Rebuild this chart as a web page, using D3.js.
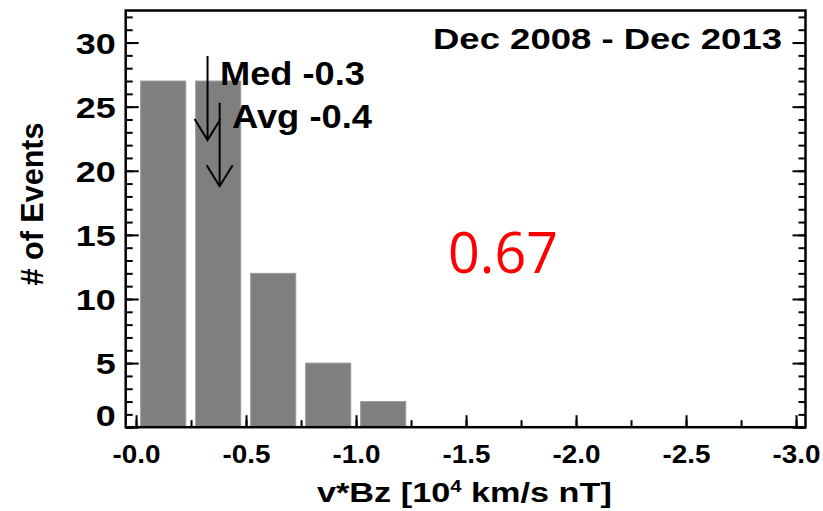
<!DOCTYPE html>
<html>
<head>
<meta charset="utf-8">
<script src="https://cdn.jsdelivr.net/npm/d3@7"></script>
<style>
  body { margin: 0; background: #fff; }
  text { font-family: "Liberation Sans", Arial, Helvetica, sans-serif; font-weight: bold; }
</style>
</head>
<body>
<script>
// histogram bins (left edge of each 0.25 wide bin) and counts
var binStart = [0, -0.25, -0.5, -0.75, -1.0];
var counts = [27, 27, 12, 5, 2];
var xTicks = [0, -0.5, -1.0, -1.5, -2.0, -2.5, -3.0];
var xTickLabels = ["-0.0", "-0.5", "-1.0", "-1.5", "-2.0", "-2.5", "-3.0"];
var yTicks = [0, 5, 10, 15, 20, 25, 30];

// median / average markers: value, arrow top and tip (in counts)
var markerVal = [-0.325, -0.38];
var markerTop = [28.95, 25.3];
var markerTip = [22.4, 18.8];
var markerText = ["Med -0.3", "Avg -0.4"];

var W = 823, H = 511;
// plot frame (note: "top" is a reserved window property, so use other names)
var plotL = 125.7, plotR = 805.5, plotT = 10.5, plotB = 427.2;

var svg = d3.select("body").append("svg")
    .attr("width", W)
    .attr("height", H);

var x = d3.scaleLinear().domain([0.047, -3.043]).range([plotL, plotR]);
var y = d3.scaleLinear().domain([0, 32.5]).range([plotB, plotT]);

// bars
var binW = 0.25, gapL = 0.021, gapR = 0.024;
svg.selectAll("rect.bar")
  .data(counts)
  .enter().append("rect")
    .attr("class", "bar")
    .attr("x", function(d, i) { return x(binStart[i] - gapL); })
    .attr("width", function(d, i) { return x(binStart[i] - binW + gapR) - x(binStart[i] - gapL); })
    .attr("y", function(d) { return y(d); })
    .attr("height", function(d) { return y(0) - y(d); })
    .style("fill", "#7f7f7f")
    .style("stroke", "#9c9c9c")
    .style("stroke-width", 1);

// axes, ticks pointing inward
function styleTicks(g) {
  g.select(".domain").remove();
  g.selectAll("line").style("stroke", "#000").style("stroke-width", 2);
}

svg.append("g")
    .attr("transform", "translate(" + plotL + ",0)")
    .call(d3.axisLeft(y).tickValues(d3.range(0, 33, 1)).tickSize(-7).tickFormat(""))
    .call(styleTicks);
var yAxis = svg.append("g")
    .attr("transform", "translate(" + plotL + ",0)")
    .call(d3.axisLeft(y).tickValues(yTicks).tickSize(-13).tickPadding(10))
    .call(styleTicks);
yAxis.selectAll("text")
    .style("font-size", "30px")
    .style("fill", "#000")
    .attr("dy", function(d) { return d === 0 ? "-0.05em" : "0.36em"; }) // IDL lifts the 0 label off the axis
    .attr("textLength", function(d) { return String(d).length * 20; })
    .attr("lengthAdjust", "spacingAndGlyphs");

svg.append("g")
    .attr("transform", "translate(" + plotR + ",0)")
    .call(d3.axisRight(y).tickValues(d3.range(0, 33, 1)).tickSize(-7).tickFormat(""))
    .call(styleTicks);
svg.append("g")
    .attr("transform", "translate(" + plotR + ",0)")
    .call(d3.axisRight(y).tickValues(yTicks).tickSize(-13).tickFormat(""))
    .call(styleTicks);

svg.append("g")
    .attr("transform", "translate(0," + plotB + ")")
    .call(d3.axisBottom(x).tickValues(d3.range(0, 13).map(function(i) { return -i * 0.25; })).tickSize(-7).tickFormat(""))
    .call(styleTicks);
var xAxis = svg.append("g")
    .attr("transform", "translate(0," + plotB + ")")
    .call(d3.axisBottom(x).tickValues(xTicks).tickSize(-12).tickPadding(18)
      .tickFormat(function(d, i) { return xTickLabels[i]; }))
    .call(styleTicks);
xAxis.selectAll("text")
    .style("font-size", "25.5px")
    .style("fill", "#000")
    .attr("textLength", 48)
    .attr("lengthAdjust", "spacingAndGlyphs");

// frame (no ticks along the top)
svg.append("rect")
    .attr("x", plotL).attr("y", plotT)
    .attr("width", plotR - plotL).attr("height", plotB - plotT)
    .style("fill", "none")
    .style("stroke", "#000")
    .style("stroke-width", 2.5);

// median / average arrows
markerVal.forEach(function(v, i) {
  var mx = x(v), yt = y(markerTip[i]);
  svg.append("line")
      .attr("x1", mx).attr("x2", mx)
      .attr("y1", y(markerTop[i])).attr("y2", yt)
      .style("stroke", "#000").style("stroke-width", 2);
  svg.append("path")
      .attr("d", "M" + (mx - 13) + "," + (yt - 21) + "L" + mx + "," + yt + "L" + (mx + 13) + "," + (yt - 21))
      .style("fill", "none").style("stroke", "#000").style("stroke-width", 2);
});

var markerX = [220, 232], markerY = [85, 128], markerLen = [145, 140];
markerText.forEach(function(t, i) {
  svg.append("text")
      .attr("x", markerX[i]).attr("y", markerY[i])
      .attr("textLength", markerLen[i])
      .attr("lengthAdjust", "spacingAndGlyphs")
      .style("font-size", "33px")
      .text(t);
});

// title
svg.append("text")
    .attr("x", 433).attr("y", 48.5)
    .attr("textLength", 349)
    .attr("lengthAdjust", "spacingAndGlyphs")
    .style("font-size", "30px")
    .text("Dec 2008 - Dec 2013");

// y axis title
svg.append("text")
    .attr("transform", "translate(43,204) rotate(-90)")
    .attr("text-anchor", "middle")
    .attr("textLength", 163)
    .attr("lengthAdjust", "spacingAndGlyphs")
    .style("font-size", "31px")
    .text("# of Events");

// x axis title, stretched to the picture's width
var xl = svg.append("text")
    .style("font-size", "27px");
xl.append("tspan").text("v*Bz [10");
xl.append("tspan").attr("dy", -10).style("font-size", "16px").text("4");
xl.append("tspan").attr("dy", 10).text(" km/s nT]");
var bw = xl.node().getBBox().width;
xl.attr("transform", "translate(317,501.7) scale(" + (295 / bw) + ",1)");

// correlation value
svg.append("text")
    .attr("x", 448).attr("y", 273)
    .attr("textLength", 110)
    .attr("lengthAdjust", "spacingAndGlyphs")
    .style("font-family", "'Open Sans', 'Noto Sans', sans-serif")
    .style("font-weight", "normal")
    .style("font-size", "57px")
    .style("fill", "#ff0000")
    .text("0.67");
</script>
</body>
</html>
